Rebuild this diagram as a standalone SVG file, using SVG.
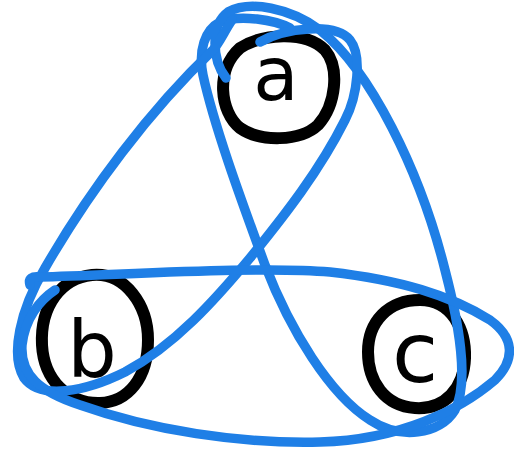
<svg xmlns="http://www.w3.org/2000/svg" width="514" height="453" viewBox="0 0 514 453">
<style>
.ring{fill:none;stroke:#000;stroke-width:12;stroke-linecap:round}
.lbl{font-family:"DejaVu Sans",sans-serif;fill:#000;text-anchor:middle}
.edge{fill:none;stroke:#1f7fe6;stroke-width:9.5;stroke-linecap:round;stroke-linejoin:round}
</style>
<rect width="514" height="453" fill="#fff"/>
<g id="node-a">
<path class="ring" d="M 240,48 C 262,34 305,30 325,50 C 340,68 336,105 318,125 C 300,142 260,142 240,128 C 220,112 215,70 240,48 Z"/>
<text class="lbl" x="276" y="100" font-size="74">a</text>
</g>
<g id="node-b">
<path class="ring" d="M 92,275 C 125,272 148,305 148,340 C 148,378 128,402 100,403 C 68,404 44,380 42,345 C 40,305 62,278 92,275 Z"/>
<text class="lbl" x="92" y="377" font-size="78">b</text>
</g>
<g id="node-c">
<path class="ring" d="M 420,300 C 452,300 466,330 465,358 C 464,388 445,410 415,408 C 385,406 368,382 368,352 C 368,322 388,300 420,300 Z"/>
<text class="lbl" x="415" y="382" font-size="84">c</text>
</g>
<g id="connectors">
<path class="edge" d="M 226,78 C 212,60 210,25 228,12 C 250,0 290,8 320,30 C 370,70 420,170 445,270 C 458,320 470,380 455,410 C 440,435 400,440 370,420 C 330,395 290,330 265,265 C 245,210 215,130 203,75 C 198,50 205,30 220,22 C 240,14 275,20 290,28"/>
<path class="edge" d="M 260,42 C 285,28 335,22 350,40 C 362,55 358,95 345,120 C 320,170 285,215 250,258 C 215,300 175,345 125,372 C 85,392 40,400 24,378 C 10,355 20,310 45,268 C 90,190 150,110 213,50 C 220,42 225,30 232,20"/>
<path class="edge" d="M 30,285 C 28,278 32,276 40,277 C 120,275 260,266 330,272 C 400,280 450,295 490,320 C 515,338 515,360 495,380 C 460,410 400,440 320,442 C 240,444 150,430 80,405 C 40,392 20,375 22,345 C 25,318 40,300 55,290"/>
</g>
</svg>
